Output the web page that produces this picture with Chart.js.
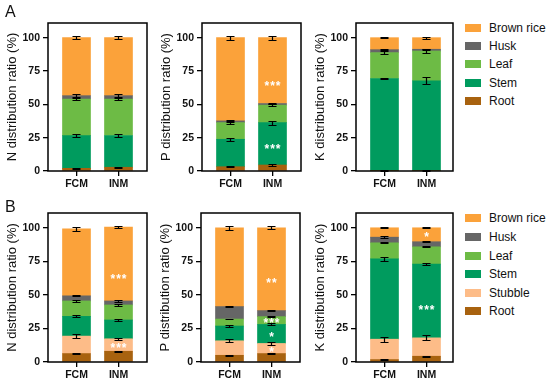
<!DOCTYPE html>
<html>
<head>
<meta charset="utf-8">
<script src="https://cdn.jsdelivr.net/npm/chart.js@4.4.1/dist/chart.umd.min.js"></script>
<style>
  body { margin: 0; background: #fff; }
  #wrap { position: relative; width: 550px; height: 384px; font-family: "Liberation Sans", Arial, sans-serif; color: #111; }
  #wrap canvas { position: absolute; }
  .panel-label { position: absolute; left: 5px; font-size: 16px; line-height: 16px; }
  .legend-item { position: absolute; left: 465px; height: 14px; font-size: 12px; line-height: 14px; white-space: nowrap; }
  .legend-item span.box { position: absolute; left: 0; top: 3px; width: 16px; height: 8px; }
  .legend-item span.text { position: absolute; left: 24px; top: 0; }
</style>
</head>
<body>
<div id="wrap"></div>
<script>
const categories = ["FCM", "INM"];
const yTicks = [0, 25, 50, 75, 100];
const partsA = ["Root", "Stem", "Leaf", "Husk", "Brown rice"];
const partsB = ["Root", "Stubble", "Stem", "Leaf", "Husk", "Brown rice"];

// values per part (bottom to top), [FCM, INM]
const nA = [[2, 2.8], [24.5, 23.8], [27.5, 27.4], [2.5, 2.5], [43.5, 43.5]];
const pA = [[3.2, 4.5], [20.6, 31.8], [12.5, 13.1], [1.3, 1.2], [62.4, 49.4]];
const kA = [[0.5, 0.5], [68.9, 67.2], [19.4, 22.3], [2.2, 1.3], [9, 8.7]];
const nB = [[6.3, 8], [13, 9.3], [14.7, 14], [11.5, 11.2], [3.8, 3], [50, 55]];
const pB = [[5, 6.3], [10.8, 7.5], [11, 14.2], [5.2, 5.8], [9.3, 4.5], [58.7, 61.7]];
const kB = [[1.8, 4.3], [15.2, 13.7], [59.8, 55], [12, 12.8], [4.2, 3.8], [7, 10.4]];

// error at the top of each part
const nAErr = [[0.5, 0.5], [1, 1], [1, 1], [1, 1], [1, 1]];
const pAErr = [[0.5, 0.5], [1, 1.5], [1, 1], [0.5, 0.5], [1.5, 1.5]];
const kAErr = [[0.3, 0.3], [0.5, 2.8], [1, 1.5], [0.5, 0.3], [0.5, 0.8]];
const nBErr = [[0.5, 0.4], [1.5, 0.8], [0.8, 0.5], [0.7, 0.5], [0.5, 0.5], [1.5, 1]];
const pBErr = [[0.5, 0.4], [1.2, 0.8], [1, 0.8], [0.3, 0.3], [0.5, 0.3], [1.5, 1]];
const kBErr = [[0.3, 0.4], [1.8, 1.8], [1.2, 0.8], [0.3, 0.5], [0.5, 0.5], [0.3, 0.3]];

// significance marks: [part index, category index, text, y value]
const nAStars = [];
const pAStars = [[4, 1, "***", 66], [1, 1, "***", 19]];
const kAStars = [];
const nBStars = [[5, 1, "***", 64], [1, 1, "***", 12.5]];
const pBStars = [[5, 1, "**", 61], [3, 1, "***", 31], [2, 1, "*", 21], [1, 1, "*", 9.5]];
const kBStars = [[5, 1, "*", 95], [2, 1, "***", 41]];

const COLORS = {
  "Root": "#a8620f",
  "Stubble": "#fdbc88",
  "Stem": "#009b5e",
  "Leaf": "#6dbb45",
  "Husk": "#666666",
  "Brown rice": "#fba23a",
};

const FONT = "'Liberation Sans', Arial, sans-serif";
const wrap = document.getElementById("wrap");

function makePanel(frame, parts, values, errors, stars, yTitle) {
  const left = frame.l - 48;
  const top = frame.t - 23;
  const width = frame.r - left + 4;
  const height = frame.b - top + 22;

  const canvas = document.createElement("canvas");
  canvas.width = width;
  canvas.height = height;
  canvas.style.left = `${left}px`;
  canvas.style.top = `${top}px`;
  canvas.style.width = `${width}px`;
  canvas.style.height = `${height}px`;
  wrap.appendChild(canvas);

  const unit = 42;
  const xMin = -28.5 / unit;
  const xMax = (frame.r - frame.l - 28.5) / unit;

  const overlay = {
    id: "overlay",
    afterDatasetsDraw(chart) {
      const { ctx, chartArea, scales } = chart;
      const y = scales.y;
      ctx.save();

      // error bars at each segment top
      ctx.strokeStyle = "#000";
      ctx.lineWidth = 1.2;
      values.forEach((row, i) => {
        const meta = chart.getDatasetMeta(i);
        row.forEach((v, j) => {
          let total = 0;
          for (let k = 0; k <= i; k += 1) total += values[k][j];
          const e = errors[i][j];
          const x = meta.data[j].x;
          const y1 = Math.round(y.getPixelForValue(total + e)) + 0.5;
          const y2 = Math.round(y.getPixelForValue(total - e)) + 0.5;
          ctx.beginPath();
          ctx.moveTo(x, y1); ctx.lineTo(x, y2);
          ctx.moveTo(x - 4, y1); ctx.lineTo(x + 4, y1);
          ctx.moveTo(x - 4, y2); ctx.lineTo(x + 4, y2);
          ctx.stroke();
        });
      });

      // stars
      ctx.fillStyle = "#fff";
      ctx.font = `bold 12px ${FONT}`;
      ctx.textAlign = "center";
      ctx.textBaseline = "alphabetic";
      ctx.letterSpacing = "1px";
      stars.forEach(([i, j, text, val]) => {
        const x = chart.getDatasetMeta(i).data[j].x;
        ctx.fillText(text, x + 0.5, y.getPixelForValue(val) + 7);
      });

      // frame
      ctx.strokeStyle = "#000";
      ctx.lineWidth = 1.5;
      ctx.strokeRect(chartArea.left, chartArea.top, chartArea.right - chartArea.left, chartArea.bottom - chartArea.top);
      ctx.restore();
    },
  };

  const datasets = parts.map((part, i) => ({
    label: part,
    data: values[i].map((v, j) => ({ x: j, y: v })),
    backgroundColor: COLORS[part],
    borderWidth: 0,
    barThickness: 28,
  }));

  return new Chart(canvas, {
    type: "bar",
    data: { datasets },
    plugins: [overlay],
    options: {
      responsive: false,
      animation: false,
      layout: { padding: { left: 0, top: 23, right: 4, bottom: 0 } },
      plugins: { legend: { display: false }, tooltip: { enabled: false } },
      scales: {
        x: {
          type: "linear",
          stacked: true,
          offset: false,
          min: xMin,
          max: xMax,
          afterBuildTicks: (scale) => { scale.ticks = [{ value: 0 }, { value: 1 }]; },
          afterFit: (scale) => { scale.height = 22; },
          border: { display: false },
          grid: { offset: false, drawOnChartArea: false, tickLength: 5, color: "#000", lineWidth: 1.3 },
          ticks: {
            color: "#111",
            padding: 2,
            font: { family: FONT, size: 10.5, weight: "bold" },
            callback: (v) => categories[v],
          },
        },
        y: {
          stacked: true,
          min: 0,
          max: 111,
          afterBuildTicks: (scale) => { scale.ticks = yTicks.map((value) => ({ value })); },
          afterFit: (scale) => { scale.width = 48; },
          border: { display: false },
          grid: { drawOnChartArea: false, tickLength: 5, color: "#000", lineWidth: 1.3 },
          ticks: {
            color: "#111",
            padding: 3,
            font: { family: FONT, size: 10.5, weight: "bold" },
          },
          title: {
            display: true,
            text: yTitle,
            color: "#111",
            padding: { top: 5, bottom: 0 },
            font: { family: FONT, size: 13 },
          },
        },
      },
    },
  });
}

makePanel({ l: 48, t: 23, r: 147, b: 171 }, partsA, nA, nAErr, nAStars, "N distribution ratio (%)");
makePanel({ l: 202, t: 23, r: 301, b: 171 }, partsA, pA, pAErr, pAStars, "P distribution ratio (%)");
makePanel({ l: 356, t: 23, r: 453, b: 171 }, partsA, kA, kAErr, kAStars, "K distribution ratio (%)");
makePanel({ l: 48, t: 213, r: 147, b: 362 }, partsB, nB, nBErr, nBStars, "N distribution ratio (%)");
makePanel({ l: 201, t: 213, r: 300, b: 362 }, partsB, pB, pBErr, pBStars, "P distribution ratio (%)");
makePanel({ l: 356, t: 213, r: 453, b: 362 }, partsB, kB, kBErr, kBStars, "K distribution ratio (%)");

function addLabel(text, y) {
  const el = document.createElement("div");
  el.className = "panel-label";
  el.textContent = text;
  el.style.top = `${y}px`;
  wrap.appendChild(el);
}
addLabel("A", 4);
addLabel("B", 199);

function addLegend(parts, firstCenter, step) {
  parts.slice().reverse().forEach((part, i) => {
    const item = document.createElement("div");
    item.className = "legend-item";
    item.style.top = `${firstCenter + i * step - 7}px`;
    item.innerHTML = `<span class="box" style="background:${COLORS[part]}"></span><span class="text">${part}</span>`;
    wrap.appendChild(item);
  });
}
addLegend(partsA, 27.7, 18.3);
addLegend(partsB, 218.3, 18.6);
</script>
</body>
</html>
